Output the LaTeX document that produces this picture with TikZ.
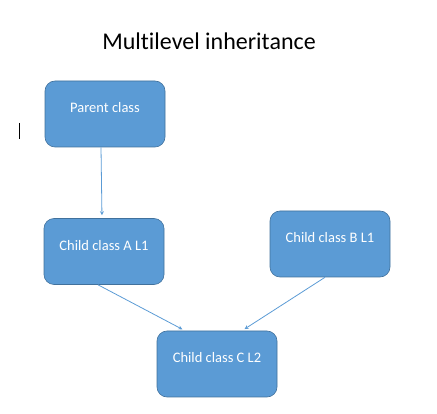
\documentclass[tikz,border=0pt]{standalone}
\usepackage{fontspec}
\setmainfont{Carlito}[Ligatures=NoCommon]
\usepackage{tikz}
\usetikzlibrary{shapes}

\definecolor{boxblue}{HTML}{5B9BD5}
\definecolor{boxedge}{HTML}{41719C}

\begin{document}
\begin{tikzpicture}[x=1pt,y=-1pt]

% Define class box and arrow style
\tikzstyle{classbox} = [draw=boxedge, fill=boxblue, semithick,
    rectangle, rounded corners=10pt, minimum width=120pt, minimum height=66pt,
    text=white, font=\fontsize{14.5}{16}\selectfont,
    text height=10pt, text depth=12pt, inner sep=0pt]
\tikzstyle{inherit} = [draw=boxblue, line width=0.8pt, -stealth, shorten >=3pt]

\useasboundingbox (0,0) rectangle (437,414);

\node [font=\fontsize{24}{27}\selectfont] (title) at (209,41) {Multilevel inheritance};

\node [classbox] (parent) at (105,114) {Parent class};
\node [classbox] (childA) at (104,251.5) {Child class A L1};
\node [classbox] (childB) at (330,244) {Child class B L1};
\node [classbox] (childC) at (217,364) {Child class C L2};

\draw [inherit] ([xshift=-4pt]parent.south) -- ([xshift=-2pt]childA.north);
\draw [inherit] ([xshift=-6pt]childA.south) -- ([xshift=-32pt]childC.north);
\draw [inherit] ([xshift=-5pt]childB.south) -- ([xshift=25pt]childC.north);

% text cursor
\draw [black, thin] (19,123) -- (19,139);
\end{tikzpicture}
\end{document}
